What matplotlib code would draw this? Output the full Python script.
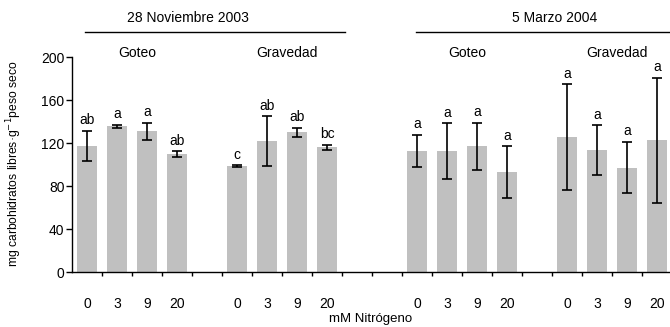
import matplotlib.pyplot as plt
import numpy as np

plt.rcParams['font.family'] = ['Liberation Sans', 'DejaVu Sans']

doses = ['0', '3', '9', '20']
groups = ['Goteo', 'Gravedad', 'Goteo', 'Gravedad']
dates = ['28 Noviembre 2003', '5 Marzo 2004']

# mean values per group (0, 3, 9, 20 mM)
nov_goteo = [118, 136, 131.5, 110]
nov_grav = [99, 122.5, 130.5, 116.5]
mar_goteo = [113, 113, 117.5, 93.5]
mar_grav = [126, 114, 97.5, 123]

nov_goteo_err = [14, 1.5, 8, 3]
nov_grav_err = [1, 23, 4, 2.5]
mar_goteo_err = [15, 26, 22, 24]
mar_grav_err = [49, 23, 24, 58]

nov_goteo_lab = ['ab', 'a', 'a', 'ab']
nov_grav_lab = ['c', 'ab', 'ab', 'bc']
mar_goteo_lab = ['a', 'a', 'a', 'a']
mar_grav_lab = ['a', 'a', 'a', 'a']

# slot where each group starts (empty slots between groups)
starts = [0, 5, 11, 16]

values = [nov_goteo, nov_grav, mar_goteo, mar_grav]
errors = [nov_goteo_err, nov_grav_err, mar_goteo_err, mar_grav_err]
letters = [nov_goteo_lab, nov_grav_lab, mar_goteo_lab, mar_grav_lab]

fs = 10

fig = plt.figure(figsize=(6.7, 3.27), dpi=100)
ax = fig.add_axes([0.1075, 0.1667, 1 - 0.1075, 0.6575])

xt, xl = [], []
for s, v, e, lab in zip(starts, values, errors, letters):
    x = np.arange(s, s + 4)
    ax.bar(x, v, width=0.67, color='#c0c0c0', zorder=1)
    ax.errorbar(x, v, yerr=e, fmt='none', ecolor='black', elinewidth=1.2,
                capsize=3.5, capthick=1.2, zorder=2, clip_on=False)
    for xi, vi, ei, li in zip(x, v, e, lab):
        ax.annotate(li, (xi, vi + ei), xytext=(0, 2.5), textcoords='offset points',
                    ha='center', va='bottom', fontsize=fs, annotation_clip=False)
    xt += list(x)
    xl += doses

trans = ax.get_xaxis_transform()
for s, g in zip(starts, groups):
    ax.text(s + 1.5 + 0.17, 1.022, g, transform=trans, ha='center', va='center', fontsize=fs)

# date headers with rules
ax.text(3.37, 1.184, dates[0], transform=trans, ha='center', va='center', fontsize=fs)
ax.text(15.57, 1.184, dates[1], transform=trans, ha='center', va='center', fontsize=fs)
ax.plot([-0.07, 8.6], [1.117, 1.117], transform=trans, color='black', lw=1, clip_on=False)
ax.plot([10.97, 19.5], [1.117, 1.117], transform=trans, color='black', lw=1, clip_on=False)

ax.set_xlim(-0.5, 19.43)
ax.set_ylim(0, 200)
ax.set_yticks([0, 40, 80, 120, 160, 200])
ax.set_xticks(xt)
ax.set_xticklabels(xl)
ax.set_xticks(np.arange(0.5, 19, 1), minor=True)
ax.tick_params(axis='x', which='major', length=0, pad=18, labelsize=fs)
ax.tick_params(axis='x', which='minor', length=3, width=1, direction='out')
ax.tick_params(axis='y', length=4, width=1, pad=1.5, labelsize=fs)

for sp in ['top', 'right']:
    ax.spines[sp].set_visible(False)
ax.spines['left'].set_linewidth(1)
ax.spines['bottom'].set_linewidth(1)

fig.text(14 / 670, 1 - 164 / 327, 'mg carbohidratos libres·g$^{-1}$peso seco',
         rotation=90, ha='center', va='center', fontsize=8.7)
fig.text(371 / 670, 1 - 319 / 327, 'mM Nitrógeno', ha='center', va='center', fontsize=9.5)

fig.savefig('out.png', dpi=100)
